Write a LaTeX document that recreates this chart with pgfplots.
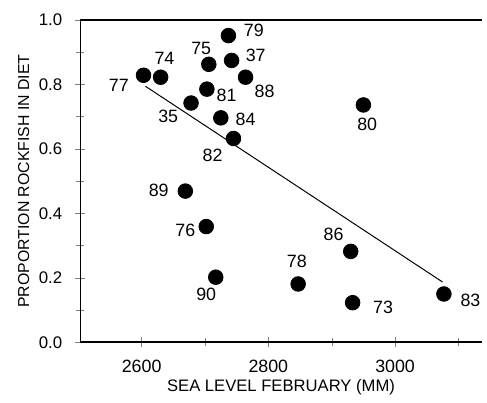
\documentclass[border=0pt]{standalone}
\usepackage{fontspec}
\setmainfont{Liberation Sans}
\usepackage{pgfplots}
\pgfplotsset{compat=1.18}

\begin{document}
\begin{tikzpicture}[x=1pt,y=1pt]
\begin{axis}[
    scale only axis,
    width=203pt, height=163pt,
    xmin=2503, xmax=3137,
    ymin=0, ymax=1.0,
    axis lines*=left,
    axis line style={line width=0.5pt},
    x axis line style={line width=1pt},
    xtick={2600,2800,3000},
    minor xtick={2700,2900,3100},
    ytick={0,0.2,0.4,0.6,0.8,1.0},
    minor ytick={0.1,0.3,0.5,0.7,0.9},
    tick align=center,
    major tick length=5pt,
    minor tick length=4pt,
    /pgf/number format/assume math mode=true,
    x tick label style={/pgf/number format/1000 sep={}, font=\fontsize{9}{10}\selectfont, yshift=-3pt},
    y tick label style={/pgf/number format/.cd, fixed, fixed zerofill, precision=1, /tikz/.cd, font=\fontsize{8.5}{10}\selectfont, xshift=-3pt},
    xlabel={SEA LEVEL FEBRUARY (MM)},
    ylabel={PROPORTION ROCKFISH IN DIET},
    xlabel style={font=\fontsize{8.4}{10}\selectfont, yshift=3.5pt},
    ylabel style={font=\fontsize{8}{10}\selectfont, yshift=-2pt},
    clip=false,
]
% regression line
\addplot[black, line width=0.5pt] coordinates {(2606,0.794) (3075,0.187)};
% yearly points
\addplot[only marks, mark=*, mark size=3.7pt, black] coordinates {
    (2603,0.828) (2630,0.822) (2706,0.862) (2737,0.951) (2742,0.874)
    (2764,0.822) (2703,0.785) (2678,0.742) (2725,0.696) (2745,0.632)
    (2950,0.736) (2669,0.469) (2702,0.359) (2717,0.202) (2847,0.181)
    (2930,0.282) (2933,0.123) (3077,0.150)
};
\draw[line width=1pt] (rel axis cs:0,1) -- (rel axis cs:1,1);
\begin{scope}[every node/.style={font=\fontsize{9}{10}\selectfont}]
\node at (axis cs:2564,0.798) {77};
\node at (axis cs:2636,0.880) {74};
\node at (axis cs:2694,0.911) {75};
\node at (axis cs:2777,0.966) {79};
\node at (axis cs:2780,0.890) {37};
\node at (axis cs:2794,0.779) {88};
\node at (axis cs:2734,0.767) {81};
\node at (axis cs:2642,0.702) {35};
\node at (axis cs:2764,0.690) {84};
\node at (axis cs:2712,0.580) {82};
\node at (axis cs:2956,0.675) {80};
\node at (axis cs:2627,0.472) {89};
\node at (axis cs:2669,0.347) {76};
\node at (axis cs:2702,0.150) {90};
\node at (axis cs:2845,0.252) {78};
\node at (axis cs:2903,0.334) {86};
\node at (axis cs:2981,0.110) {73};
\node at (axis cs:3119,0.129) {83};
\end{scope}
\end{axis}
\path[use as bounding box] (-40.5pt,-30.5pt) rectangle (203pt,173pt);
\end{tikzpicture}
\end{document}
